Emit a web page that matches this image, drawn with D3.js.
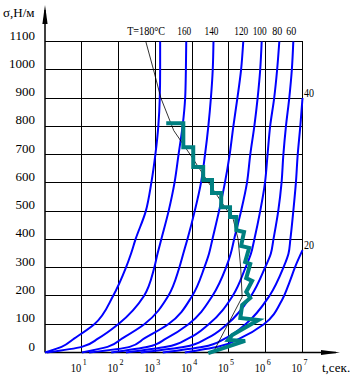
<!DOCTYPE html>
<html><head><meta charset="utf-8">
<script src="https://cdn.jsdelivr.net/npm/d3@7"></script>
<style>
body{margin:0;background:#fff}
svg{display:block}
text{font-family:"Liberation Serif","Times New Roman",serif;fill:#000}
</style>
</head><body>
<svg id="c" width="355" height="377"></svg>
<script>
// ---- data ----
const stressLevels   = [0, 20, 50, 100, 200, 300, 350, 400, 500, 600, 700, 800, 900, 1000, 1100];
const stressLevels20 = [0, 20, 50, 100, 185, 250, 303, 362];
const tempLabels = ["T=180°C", "160", "140", "120", "100", "80", "60", "40", "20"];
// log10(t, s) at each stress level
const lgT180 = [0.00, 0.45, 0.80, 1.34, 1.85, 2.20, 2.34, 2.46, 2.74, 2.89, 3.00, 3.08, 3.12, 3.13, 3.13];
const lgT160 = [0.05, 1.00, 1.45, 1.99, 2.69, 2.97, 3.06, 3.16, 3.36, 3.52, 3.63, 3.74, 3.81, 3.83, 3.84];
const lgT140 = [1.00, 1.70, 2.10, 2.70, 3.35, 3.65, 3.76, 3.87, 4.07, 4.24, 4.35, 4.44, 4.51, 4.56, 4.58];
const lgT120 = [1.20, 2.30, 2.70, 3.35, 4.00, 4.33, 4.46, 4.55, 4.73, 4.89, 5.02, 5.12, 5.23, 5.33, 5.39];
const lgT100 = [1.80, 2.80, 3.30, 3.90, 4.55, 4.92, 5.05, 5.14, 5.33, 5.49, 5.58, 5.69, 5.78, 5.85, 5.89];
const lgT80  = [2.20, 3.30, 3.90, 4.45, 5.10, 5.45, 5.60, 5.69, 5.85, 5.98, 6.05, 6.12, 6.23, 6.31, 6.37];
const lgT60  = [2.60, 3.80, 4.40, 4.95, 5.60, 5.98, 6.14, 6.21, 6.34, 6.43, 6.48, 6.55, 6.64, 6.71, 6.75];
const lgT40  = [3.20, 4.30, 4.90, 5.45, 6.10, 6.48, 6.62, 6.67, 6.75, 6.82, 6.87, 6.94, 7.00];
const lgT20  = [3.80, 4.70, 5.30, 5.95, 6.44, 6.65, 6.80, 7.00];

const yTicks  = [0, 100, 200, 300, 400, 500, 600, 700, 800, 900, 1000, 1100];
const xDecades = [1, 2, 3, 4, 5, 6, 7];

// thin envelope line
const envLgT    = [2.74, 2.95, 3.15, 3.50, 4.00, 4.45, 4.81, 5.12, 5.25, 5.32, 5.36, 4.57];
const envStress = [1100, 1000, 900, 785, 690, 600, 530, 470, 400, 300, 196, 0];

// green staircase
const stairLgT    = [3.35, 3.76, 3.76, 4.03, 4.03, 4.30, 4.30, 4.54, 4.54, 4.79, 4.79, 5.03, 5.03, 5.20, 5.20, 5.41, 5.33, 5.55, 5.44, 5.58, 5.47, 5.63, 5.47, 5.58, 5.36, 5.31, 5.80, 5.09, 4.98, 5.44, 4.49];
const stairStress = [811, 811, 726, 726, 656, 656, 610, 610, 564, 564, 514, 514, 479, 479, 433, 426, 377, 370, 320, 313, 263, 253, 214, 193, 168, 122, 115, 62, 44, 41, 0];

// ---- chart ----
const svg = d3.select("#c");
const x = d3.scaleLinear().domain([0, 7]).range([45, 302.5]);
const y = d3.scaleLinear().domain([0, 1100]).range([352.5, 41.5]);

const grid = svg.append("g").attr("stroke", "#000").attr("stroke-width", 1).attr("shape-rendering", "crispEdges");
grid.selectAll(".v").data(xDecades).join("line")
  .attr("x1", d => x(d)).attr("x2", d => x(d)).attr("y1", y(0)).attr("y2", y(1100));
grid.selectAll(".h").data(yTicks.filter(d => d > 0)).join("line")
  .attr("x1", x(0)).attr("x2", x(7)).attr("y1", d => y(d)).attr("y2", d => y(d));

// axes with arrows
svg.append("line").attr("x1", x(0)).attr("x2", x(0)).attr("y1", y(0)).attr("y2", 10)
  .attr("stroke", "#000").attr("stroke-width", 1.5);
svg.append("polygon").attr("points", `${x(0)},5 ${x(0)-2.6},24 ${x(0)+2.6},24`).attr("fill", "#000");
svg.append("line").attr("x1", x(0)).attr("x2", 336).attr("y1", y(0)).attr("y2", y(0))
  .attr("stroke", "#000").attr("stroke-width", 1.5);
svg.append("polygon").attr("points", `340,${y(0)} 321,${y(0)-2.6} 321,${y(0)+2.6}`).attr("fill", "#000");

// curves
const series = [
  {lg: lgT180, s: stressLevels}, {lg: lgT160, s: stressLevels}, {lg: lgT140, s: stressLevels},
  {lg: lgT120, s: stressLevels}, {lg: lgT100, s: stressLevels}, {lg: lgT80, s: stressLevels},
  {lg: lgT60, s: stressLevels}, {lg: lgT40, s: stressLevels.slice(0, lgT40.length)},
  {lg: lgT20, s: stressLevels20}
];
const curveLine = d3.line().x(d => x(d[0])).y(d => y(d[1])).curve(d3.curveMonotoneY);
svg.append("g").selectAll("path").data(series).join("path")
  .attr("d", d => curveLine(d.lg.map((v, i) => [v, d.s[i]])))
  .attr("fill", "none").attr("stroke", "#0000ff").attr("stroke-width", 2);

// envelope thin line
const envLine = d3.line().x(d => x(d[0])).y(d => y(d[1]));
svg.append("path").attr("d", envLine(envLgT.map((v, i) => [v, envStress[i]])))
  .attr("fill", "none").attr("stroke", "#000").attr("stroke-width", 0.8);

// staircase
svg.append("path").attr("d", envLine(stairLgT.map((v, i) => [v, stairStress[i]])))
  .attr("fill", "none").attr("stroke", "#008080").attr("stroke-width", 4)
  .attr("stroke-linejoin", "miter").attr("stroke-linecap", "square");

// y tick labels
svg.append("g").selectAll("text").data(yTicks).join("text")
  .attr("x", 35).attr("y", d => y(d) - 2).attr("text-anchor", "end")
  .attr("font-size", 13).text(d => d);

// x tick labels 10^k
const xl = svg.append("g");
xl.selectAll(".b").data(xDecades).join("text")
  .attr("x", d => x(d) - 11).attr("y", 371.5).attr("font-size", 13)
  .attr("textLength", 10.5).attr("lengthAdjust", "spacingAndGlyphs").text("10");
xl.selectAll(".e").data(xDecades).join("text")
  .attr("x", d => x(d) + 1).attr("y", 365).attr("font-size", 8).text(d => d);

svg.append("text").attr("x", 322).attr("y", 371.5).attr("font-size", 13).text("t,сек.");
svg.append("text").attr("x", 3).attr("y", 17).attr("font-size", 13).text("σ,Н/м");

// temperature labels
const tops = series.map(d => [d.lg[d.lg.length - 1], d.s[d.s.length - 1]]);
tempLabels.forEach((t, i) => {
  const [lg, s] = tops[i];
  const el = svg.append("text").attr("font-size", 12).attr("lengthAdjust", "spacingAndGlyphs").text(t);
  if (i === 0) {
    el.attr("x", x(lg) + 5).attr("y", 35).attr("text-anchor", "end").attr("textLength", 38);
  } else if (i < 7) {
    el.attr("x", x(lg) - 2).attr("y", 35).attr("text-anchor", "middle").attr("textLength", t.length === 3 ? 14 : 10);
  } else {
    el.attr("x", x(lg) + 1.5).attr("y", y(s) - 1).attr("textLength", 10);
  }
});
</script>
</body></html>
